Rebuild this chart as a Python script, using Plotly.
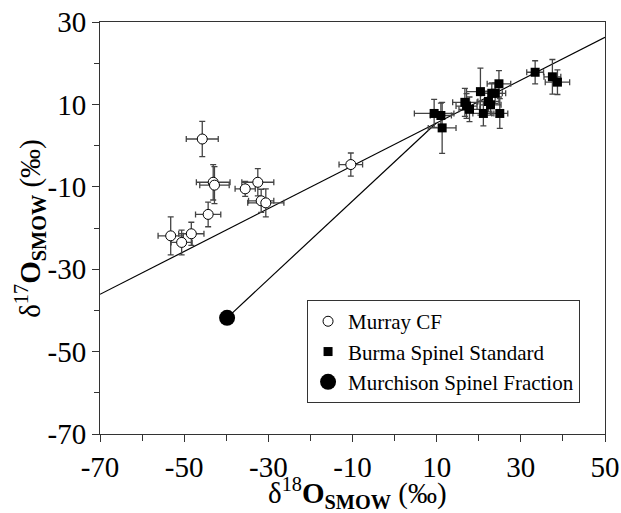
import plotly.graph_objects as go

# Murray CF (open circles)
murray_x = [-45.7, -43.1, -42.8, -44.3, -35.5, -32.5, -31.7, -30.6, -53.2, -50.6, -48.3, -10.4]
murray_y = [1.6, -8.9, -9.6, -16.7, -10.5, -8.9, -13.4, -13.9, -21.9, -23.5, -21.4, -4.6]
murray_xerr = [3.8, 4.0, 3.5, 3.0, 2.4, 3.8, 3.0, 4.3, 3.0, 2.5, 3.0, 2.8]
murray_yerr = [4.3, 4.3, 4.5, 3.0, 1.8, 3.3, 2.8, 3.4, 4.6, 3.0, 2.8, 2.8]

# Burma Spinel Standard (filled squares)
burma_x = [9.4, 11.0, 11.3, 16.7, 17.1, 17.8, 20.4, 21.1, 22.3, 23.1, 23.9, 24.8, 22.8, 25.0, 33.4, 37.5, 38.7]
burma_y = [7.8, 7.3, 4.3, 10.5, 9.6, 8.8, 13.1, 7.8, 10.7, 12.7, 12.7, 15.0, 9.9, 7.8, 17.8, 16.7, 15.4]
burma_xerr = [4.7, 2.5, 3.3, 2.9, 2.5, 2.5, 3.3, 2.5, 2.5, 2.5, 2.5, 2.8, 2.5, 1.9, 2.0, 2.0, 2.9]
burma_yerr = [3.4, 3.0, 6.2, 3.4, 3.0, 3.0, 5.7, 3.0, 2.5, 2.5, 2.5, 3.2, 2.5, 3.6, 2.8, 4.2, 3.0]

# Murchison Spinel Fraction
murch_x = [-39.8]
murch_y = [-41.8]

# Reference lines
tfl_x = [-70, 50]
tfl_y = [-36.1, 26.3]
mix_x = [-39.8, 9.9]
mix_y = [-41.8, 5.5]

x_ticks = [-70, -50, -30, -10, 10, 30, 50]
x_labels = ["-70", "-50", "-30", "-10", "10", "30", "50"]
y_ticks = [-70, -50, -30, -10, 10, 30]
y_labels = ["-70", "-50", "-30", "-10", "10", "30"]

x_title = "δ<sup>18</sup><b>O</b><sub><b>SMOW</b></sub> (‰)"
y_title = "δ<sup>17</sup><b>O</b><sub><b>SMOW</b></sub> (‰)"

SERIF = "Liberation Serif"
ERR = "#444444"

fig = go.Figure()

fig.add_trace(go.Scatter(x=tfl_x, y=tfl_y, mode="lines",
                         line=dict(color="black", width=1.2), showlegend=False, hoverinfo="skip"))
fig.add_trace(go.Scatter(x=mix_x, y=mix_y, mode="lines",
                         line=dict(color="black", width=1.2), showlegend=False, hoverinfo="skip"))

fig.add_trace(go.Scatter(
    x=murray_x, y=murray_y, mode="markers", name="Murray CF",
    marker=dict(symbol="circle", size=10, color="white", line=dict(color="black", width=1)),
    error_x=dict(type="data", array=murray_xerr, color=ERR, thickness=1.3, width=3),
    error_y=dict(type="data", array=murray_yerr, color=ERR, thickness=1.3, width=3),
))
fig.add_trace(go.Scatter(
    x=burma_x, y=burma_y, mode="markers", name="Burma Spinel Standard",
    marker=dict(symbol="square", size=9, color="black", line=dict(color="black", width=0)),
    error_x=dict(type="data", array=burma_xerr, color=ERR, thickness=1.3, width=3),
    error_y=dict(type="data", array=burma_yerr, color=ERR, thickness=1.3, width=3),
))
fig.add_trace(go.Scatter(
    x=murch_x, y=murch_y, mode="markers", name="Murchison Spinel Fraction",
    marker=dict(symbol="circle", size=16, color="black"),
))

axis_common = dict(
    showline=True, linecolor="#333333", linewidth=1, mirror=True,
    showgrid=False, zeroline=False, automargin=False,
    ticks="outside", ticklen=7, tickwidth=1, tickcolor="#333333",
    tickfont=dict(family=SERIF, size=29, color="black"),
)

fig.update_xaxes(range=[-70, 50], tickvals=x_ticks, ticktext=x_labels,
                 minor=dict(dtick=10, tick0=-70, ticks="outside", ticklen=6, tickcolor="#333333"),
                 **axis_common)
fig.update_yaxes(range=[-70, 30], tickvals=y_ticks, ticktext=y_labels,
                 minor=dict(dtick=10, tick0=-70, ticks="outside", ticklen=5, tickcolor="#333333"),
                 **axis_common)

fig.add_annotation(text=x_title, xref="paper", yref="paper", x=0.51, y=-0.142,
                   xanchor="center", yanchor="middle", showarrow=False,
                   font=dict(family=SERIF, size=29, color="black"))
fig.add_annotation(text=y_title, xref="paper", yref="paper", x=-0.139, y=0.5,
                   xanchor="center", yanchor="middle", showarrow=False, textangle=-90,
                   font=dict(family=SERIF, size=29, color="black"))

fig.update_layout(
    width=621, height=513,
    margin=dict(l=100, r=16, t=22, b=79),
    paper_bgcolor="white", plot_bgcolor="white",
    showlegend=True,
    legend=dict(x=0.41, y=0.325, xanchor="left", yanchor="top",
                bordercolor="#333333", borderwidth=1, bgcolor="white",
                font=dict(family=SERIF, size=21, color="black"),
                tracegroupgap=0),
)

fig.write_html("out.html", config={"displayModeBar": False},
               post_script="document.body.style.margin='0';document.body.style.overflow='hidden';")
